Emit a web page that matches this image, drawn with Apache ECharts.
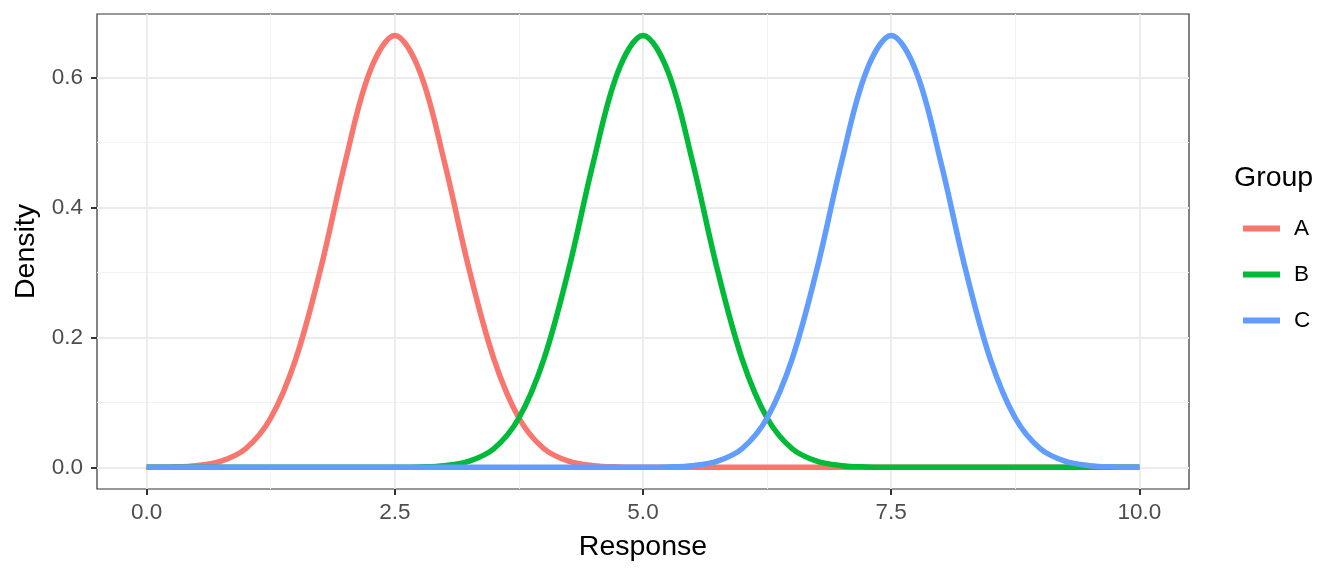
<!DOCTYPE html>
<html>
<head>
<meta charset="utf-8">
<script src="https://cdn.jsdelivr.net/npm/echarts@6/dist/echarts.min.js"></script>
<style>
  html, body { margin: 0; padding: 0; background: #fff; }
  #chart { width: 1344px; height: 576px; }
</style>
</head>
<body>
<div id="chart"></div>
<script>
// values, x step 0.25
var responseX = [0, 0.25, 0.5, 0.75, 1, 1.25, 1.5, 1.75, 2, 2.25, 2.5, 2.75, 3, 3.25, 3.5, 3.75, 4, 4.25, 4.5, 4.75,
    5, 5.25, 5.5, 5.75, 6, 6.25, 6.5, 6.75, 7, 7.25, 7.5, 7.75, 8, 8.25, 8.5, 8.75, 9, 9.25, 9.5, 9.75, 10];
var densityA = [0.0001, 0.0006, 0.0026, 0.0095, 0.029, 0.076, 0.166, 0.304, 0.470, 0.610, 0.665, 0.610, 0.470, 0.304, 0.166, 0.076, 0.029, 0.0095, 0.0026, 0.0006,
    0.0001, 0, 0, 0, 0, 0, 0, 0, 0, 0, 0, 0, 0, 0, 0, 0, 0, 0, 0, 0, 0];
var densityB = [0, 0, 0, 0, 0, 0, 0, 0, 0, 0, 0.0001, 0.0006, 0.0026, 0.0095, 0.029, 0.076, 0.166, 0.304, 0.470, 0.610,
    0.665, 0.610, 0.470, 0.304, 0.166, 0.076, 0.029, 0.0095, 0.0026, 0.0006, 0.0001, 0, 0, 0, 0, 0, 0, 0, 0, 0, 0];
var densityC = [0, 0, 0, 0, 0, 0, 0, 0, 0, 0, 0, 0, 0, 0, 0, 0, 0, 0, 0, 0,
    0.0001, 0.0006, 0.0026, 0.0095, 0.029, 0.076, 0.166, 0.304, 0.470, 0.610, 0.665, 0.610, 0.470, 0.304, 0.166, 0.076, 0.029, 0.0095, 0.0026, 0.0006, 0.0001];
var groups = ['A', 'B', 'C'];
var groupColors = ['#F8766D', '#00BA38', '#619CFF'];
var xMajor = [0, 2.5, 5, 7.5, 10];
var xMinor = [1.25, 3.75, 6.25, 8.75];
var yMajor = [0, 0.2, 0.4, 0.6];
var yMinor = [0.1, 0.3, 0.5];

function pairs(ys) {
    return responseX.map(function (x, i) { return [x, ys[i]]; });
}

var myChart = echarts.init(document.getElementById('chart'));

var minorStyle = { color: '#f2f2f2', width: 1, type: 'solid' };
var majorStyle = { color: '#ebebeb', width: 1.8, type: 'solid' };
var gridLines = [];
xMinor.forEach(function (v) { gridLines.push({ xAxis: v, lineStyle: minorStyle }); });
yMinor.forEach(function (v) { gridLines.push({ yAxis: v, lineStyle: minorStyle }); });
xMajor.forEach(function (v) { gridLines.push({ xAxis: v, lineStyle: majorStyle }); });
yMajor.forEach(function (v) { gridLines.push({ yAxis: v, lineStyle: majorStyle }); });

var option = {
    animation: false,
    textStyle: { fontFamily: 'Liberation Sans, Arial, sans-serif' },
    title: {
        text: 'Group',
        left: 1229,
        top: 159,
        textStyle: { fontSize: 28.5, fontWeight: 'normal', color: '#000' }
    },
    legend: {
        data: groups,
        orient: 'vertical',
        left: 1238,
        top: 212,
        itemWidth: 37,
        itemHeight: 6,
        itemGap: 23,
        icon: 'rect',
        textStyle: { fontSize: 22.5, color: '#000', padding: [0, 0, 0, 9] }
    },
    grid: {
        left: 97,
        right: 155,
        top: 14,
        bottom: 87,
        show: true,
        borderColor: '#333333',
        borderWidth: 1.2,
        backgroundColor: '#fff'
    },
    xAxis: {
        type: 'value',
        min: -0.5,
        max: 10.5,
        name: 'Response',
        nameLocation: 'middle',
        nameGap: 44,
        nameTextStyle: { fontSize: 28.5, color: '#000' },
        axisLine: { show: false, onZero: false },
        splitLine: { show: false },
        axisTick: { show: true, customValues: xMajor, length: 6, lineStyle: { color: '#333333', width: 2 } },
        axisLabel: {
            customValues: xMajor,
            fontSize: 22.5,
            color: '#4d4d4d',
            margin: 12,
            formatter: function (v) { return v.toFixed(1); }
        }
    },
    yAxis: {
        type: 'value',
        min: -0.0333,
        max: 0.698,
        name: 'Density',
        nameLocation: 'middle',
        nameGap: 55,
        nameTextStyle: { fontSize: 28.5, color: '#000' },
        axisLine: { show: false, onZero: false },
        splitLine: { show: false },
        axisTick: { show: true, customValues: yMajor, length: 6, lineStyle: { color: '#333333', width: 2 } },
        axisLabel: {
            customValues: yMajor,
            fontSize: 22.5,
            color: '#4d4d4d',
            margin: 14,
            formatter: function (v) { return v.toFixed(1); }
        }
    },
    series: [{
        name: 'grid',
        type: 'line',
        data: [[0, 0]],
        symbol: 'none',
        silent: true,
        z: 1,
        lineStyle: { opacity: 0 },
        markLine: {
            silent: true,
            symbol: 'none',
            z: 1,
            label: { show: false },
            animation: false,
            data: gridLines
        }
    }].concat([densityA, densityB, densityC].map(function (ys, i) {
        return {
            name: groups[i],
            type: 'line',
            data: pairs(ys),
            smooth: 0.35,
            symbol: 'none',
            z: 3,
            color: groupColors[i],
            lineStyle: { width: 5.5, color: groupColors[i] }
        };
    }))
};

myChart.setOption(option);
</script>
</body>
</html>
